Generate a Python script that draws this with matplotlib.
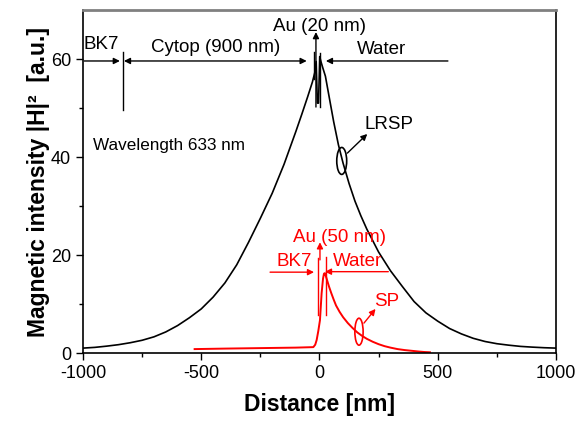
import numpy as np
import matplotlib
matplotlib.use('Agg')
import matplotlib.pyplot as plt
from matplotlib.patches import Ellipse

plt.rcParams['font.family'] = ['Liberation Sans', 'DejaVu Sans']
plt.rcParams['axes.unicode_minus'] = False

# LRSP (black)
lrsp_x = [-1000, -950, -900, -850, -800, -750, -700, -650, -600, -550, -500,
          -450, -400, -350, -300, -250, -200, -150, -100, -75, -50, -30, -20,
          -14, -9, -4, 1, 6, 14, 25, 40, 60, 80, 100, 125, 150, 175, 200,
          250, 300, 350, 400, 450, 500, 550, 600, 650, 700, 750, 800, 850,
          900, 950, 1000]
lrsp_y = [1.0, 1.15, 1.4, 1.7, 2.1, 2.6, 3.3, 4.3, 5.6, 7.2, 9.0,
          11.4, 14.3, 18.0, 22.6, 27.5, 32.6, 38.5, 45.2, 48.7, 52.3, 55.3, 57.2,
          59.5, 51.0, 51.0, 60.5, 59.5, 58.2, 56.5, 52.5, 47.2, 42.5, 38.7, 34.6, 31.0, 28.0, 25.3,
          20.6, 16.8, 13.6, 10.5, 8.2, 6.5, 5.0, 3.9, 3.0, 2.35, 1.9, 1.6, 1.35,
          1.2, 1.08, 1.0]

# SP (red)
sp_x = [-528, -400, -250, -100, -26, -18, -12, -5, 2, 9, 15, 19, 23, 30, 40,
        50, 60, 70, 85, 100, 120, 140, 160, 180, 200, 225, 250, 275, 300,
        330, 360, 390, 420, 445, 467]
sp_y = [0.8, 0.9, 1.0, 1.1, 1.2, 1.7, 2.65, 4.5, 6.7, 12.2, 15.2, 16.2, 16.3, 15.2, 13.6,
        12.2, 10.9, 9.7, 8.4, 7.3, 6.1, 5.1, 4.2, 3.5, 2.9, 2.3, 1.8, 1.4, 1.1,
        0.8, 0.6, 0.45, 0.3, 0.2, 0.15]

fig = plt.figure(figsize=(5.78, 4.21), dpi=100)
ax = fig.add_axes([0.1436, 0.1615, 0.8183, 0.8147])

ax.plot(lrsp_x, lrsp_y, color='black', lw=1.2)
ax.plot(sp_x, sp_y, color='red', lw=1.4)

ax.set_xlim(-1000, 1000)
ax.set_ylim(0, 70)
ax.set_xticks([-1000, -500, 0, 500, 1000])
ax.set_xticks([-750, -250, 250, 750], minor=True)
ax.set_yticks([0, 20, 40, 60])
ax.set_yticks([10, 30, 50], minor=True)
ax.tick_params(which='major', direction='out', length=5, width=1, labelsize=13,
               top=False, right=False)
ax.tick_params(which='minor', direction='out', length=3, width=1, top=False, right=False)
ax.spines['top'].set_color('#808080')
ax.spines['top'].set_linewidth(2)
for s in ['left', 'bottom', 'right']:
    ax.spines[s].set_linewidth(1.2)

ax.set_xlabel('Distance [nm]', fontsize=16.5, fontweight='bold', labelpad=8)
ax.set_ylabel('Magnetic intensity |H|²  [a.u.]', fontsize=16.5, fontweight='bold', labelpad=1)

fs = 13.5
ap = dict(arrowstyle='-|>', color='black', lw=1, mutation_scale=9, shrinkA=0, shrinkB=0)
apd = dict(arrowstyle='<|-|>', color='black', lw=1, mutation_scale=9, shrinkA=0, shrinkB=0)

# black annotations
ax.annotate('', xy=(-844, 59.6), xytext=(-995, 59.6), arrowprops=ap)
ax.annotate('', xy=(-54, 59.6), xytext=(-827, 59.6), arrowprops=apd)
ax.annotate('', xy=(27, 59.6), xytext=(543, 59.6), arrowprops=ap)
ax.annotate('', xy=(-15, 65.5), xytext=(-15, 50.2), arrowprops=ap)
ax.plot([-831, -831], [49.6, 61.4], color='black', lw=1)
ax.plot([-24, -24], [56.0, 61.4], color='black', lw=1)
ax.plot([4, 4], [50.2, 61.2], color='black', lw=1)
ax.text(-997, 62.9, 'BK7', fontsize=fs, ha='left', va='center')
ax.text(-438, 62.4, 'Cytop (900 nm)', fontsize=fs, ha='center', va='center')
ax.text(0, 66.6, 'Au (20 nm)', fontsize=fs, ha='center', va='center')
ax.text(264, 62.0, 'Water', fontsize=fs, ha='center', va='center')
ax.text(-957, 42.4, 'Wavelength 633 nm', fontsize=12.3, ha='left', va='center')
ax.add_patch(Ellipse((94, 39.2), 42, 5.5, fill=False, color='black', lw=1.2))
ax.annotate('', xy=(202, 44.7), xytext=(118, 40.8), arrowprops=ap)
ax.text(295, 46.7, 'LRSP', fontsize=fs, ha='center', va='center')

# red annotations
rp = dict(ap, color='red')
ax.annotate('', xy=(-23, 16.5), xytext=(-209, 16.5), arrowprops=rp)
ax.annotate('', xy=(23, 16.6), xytext=(291, 16.6), arrowprops=rp)
ax.annotate('', xy=(2, 22.6), xytext=(2, 19.0), arrowprops=rp)
ax.plot([-8, -8], [7.8, 19.4], color='red', lw=1)
ax.plot([27, 27], [7.8, 19.6], color='red', lw=1)
ax.text(-108, 18.7, 'BK7', fontsize=fs, ha='center', va='center', color='red')
ax.text(163, 18.7, 'Water', fontsize=fs, ha='center', va='center', color='red')
ax.text(83, 23.6, 'Au (50 nm)', fontsize=fs, ha='center', va='center', color='red')
ax.add_patch(Ellipse((167, 4.35), 35, 5.5, fill=False, color='red', lw=1.2))
ax.annotate('', xy=(237, 9.0), xytext=(188, 6.1), arrowprops=rp)
ax.text(283, 10.5, 'SP', fontsize=fs, ha='center', va='center', color='red')

fig.savefig('out.png', dpi=100)
